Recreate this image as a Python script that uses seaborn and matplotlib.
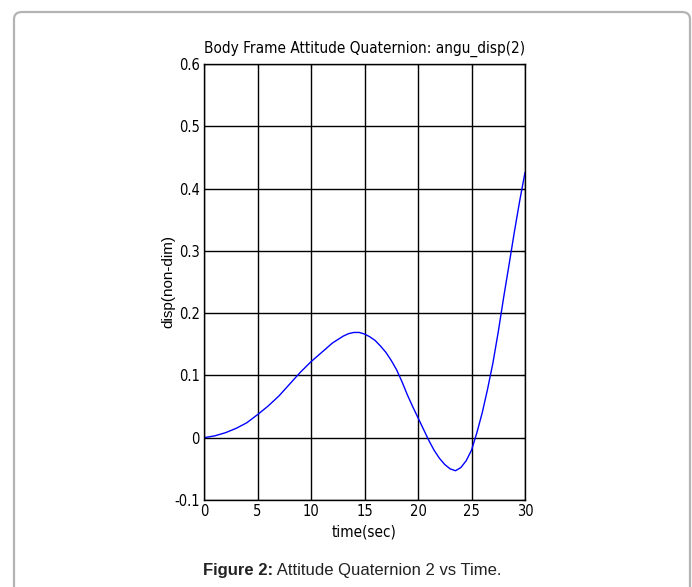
import matplotlib
matplotlib.use("Agg")
import matplotlib.pyplot as plt
import seaborn as sns
import pandas as pd
from matplotlib.patches import FancyBboxPatch

# values
time_sec = [0, 1, 2, 3, 4, 5, 6, 7, 8, 9, 10, 11, 12, 13, 13.5, 14, 14.5, 15, 15.5,
            16, 16.5, 17, 17.5, 18, 18.5, 19, 19.5, 20, 20.5, 21, 21.5, 22, 22.5, 23,
            23.5, 24, 24.5, 25, 25.5, 26, 26.5, 27, 27.5, 28, 28.5, 29, 29.5, 30]
disp = [0.000, 0.003, 0.008, 0.015, 0.024, 0.037, 0.051, 0.067, 0.086, 0.105, 0.122,
        0.137, 0.152, 0.163, 0.167, 0.169, 0.169, 0.1665, 0.162, 0.156, 0.147, 0.137,
        0.124, 0.109, 0.090, 0.069, 0.050, 0.032, 0.014, -0.004, -0.020, -0.033,
        -0.043, -0.050, -0.053, -0.048, -0.037, -0.020, 0.008, 0.040, 0.078, 0.120,
        0.170, 0.225, 0.277, 0.330, 0.380, 0.426]
x_ticks = [0, 5, 10, 15, 20, 25, 30]
y_ticks = [-0.1, 0, 0.1, 0.2, 0.3, 0.4, 0.5, 0.6]
y_tick_labels = ["-0.1", "0", "0.1", "0.2", "0.3", "0.4", "0.5", "0.6"]

df = pd.DataFrame({"time": time_sec, "disp": disp})

sns.set_style("white")
plt.rcParams["font.family"] = ["Liberation Sans Narrow", "DejaVu Sans"]
plt.rcParams["font.stretch"] = "condensed"
plt.rcParams["text.color"] = "black"
plt.rcParams["axes.labelcolor"] = "black"
regular = ["Liberation Sans", "DejaVu Sans"]

fig = plt.figure(figsize=(6.92, 5.87), dpi=100)

# rounded grey frame around the figure
frame = FancyBboxPatch((14 / 692, -0.05), 676 / 692, 1 - 12 / 587 + 0.05,
                       boxstyle="round,pad=0,rounding_size=0.012",
                       transform=fig.transFigure, fill=False,
                       edgecolor="#b4b4b4", linewidth=1.6)
fig.patches.append(frame)

ax = fig.add_axes([0.2948, 0.1482, 0.4639, 0.7428])
sns.lineplot(data=df, x="time", y="disp", ax=ax, color="#0000ff", linewidth=1.0)

ax.set_xlim(0, 30)
ax.set_ylim(-0.1, 0.6)
ax.set_xticks(x_ticks)
ax.set_yticks(y_ticks)
ax.set_xticklabels([str(t) for t in x_ticks])
ax.set_yticklabels(y_tick_labels)
ax.grid(True, color="black", linewidth=1.0, linestyle="-")
ax.set_axisbelow(True)
for s in ax.spines.values():
    s.set_color("black")
    s.set_linewidth(1.0)
ax.tick_params(direction="in", length=3, labelsize=10.5, top=True, right=True,
               colors="black", pad=3)

ax.set_title("Body Frame Attitude Quaternion: angu_disp(2)", fontsize=11, pad=8,
             color="black")
ax.set_xlabel("time(sec)", fontsize=11, labelpad=4, color="black")
ax.set_ylabel("disp(non-dim)", fontsize=11, family=regular, stretch="normal",
              color="black")
ax.yaxis.set_label_coords(-0.088, 0.5)

# caption: bold part followed by normal part, centred together
t1 = fig.text(0, 1 - 571 / 587, "Figure 2:", fontsize=12, fontweight="bold",
              family=regular, stretch="normal", va="center", ha="left", color="#222222")
t2 = fig.text(0, 1 - 571 / 587, " Attitude Quaternion 2 vs Time.", fontsize=12,
              family=regular, stretch="normal", va="center", ha="left", color="#222222")
fig.canvas.draw()
r = fig.canvas.get_renderer()
w1 = t1.get_window_extent(r).width
w2 = t2.get_window_extent(r).width
start = 352 - (w1 + w2) / 2
t1.set_x(start / 692)
t2.set_x((start + w1) / 692)

plt.savefig("out.png", dpi=100)
plt.close()
